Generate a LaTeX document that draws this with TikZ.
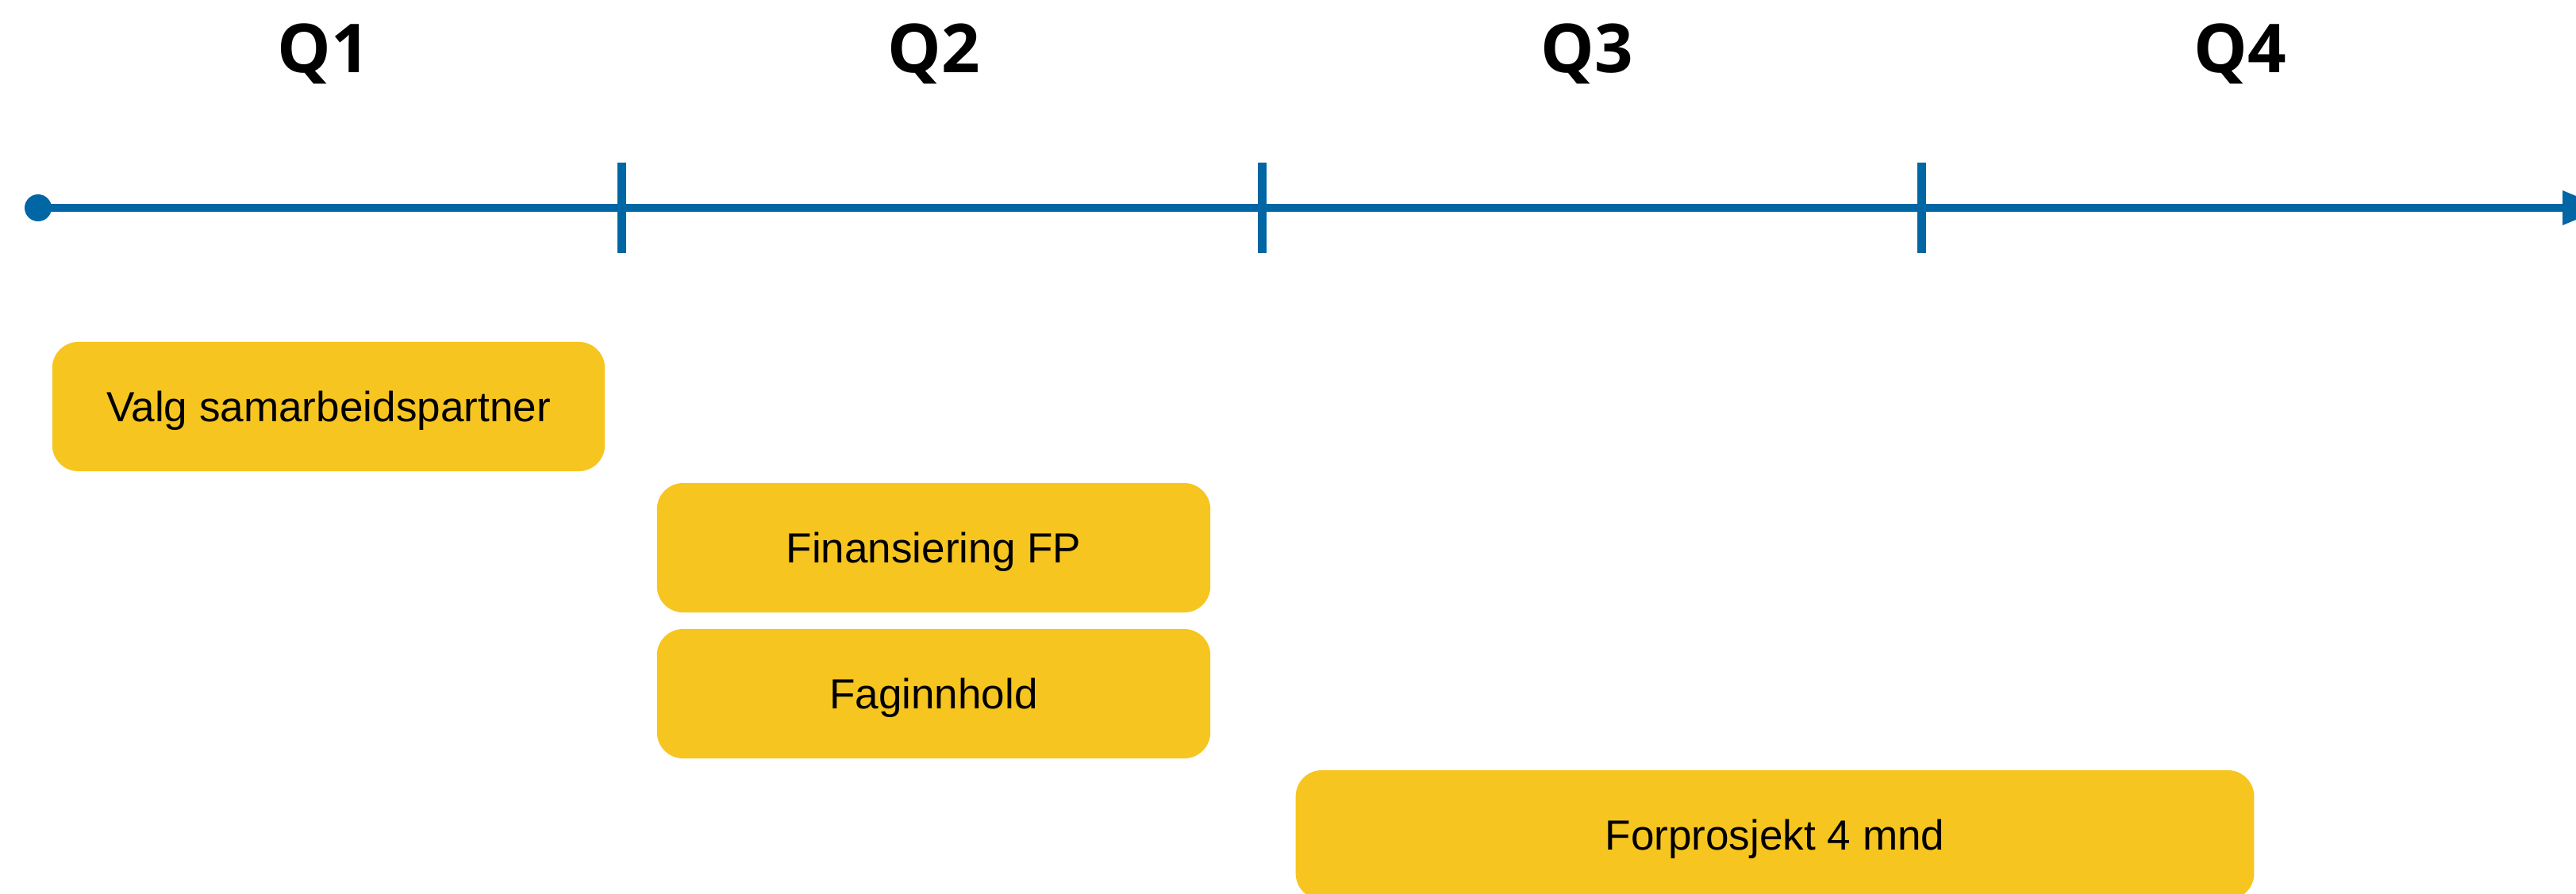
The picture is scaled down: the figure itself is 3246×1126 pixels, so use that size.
\documentclass[tikz,border=0pt]{standalone}
\usepackage{fontspec}
\setmainfont{Liberation Sans}
\newfontfamily\qfont{Open Sans}
\definecolor{axisblue}{HTML}{0066A4}
\definecolor{taskyellow}{HTML}{F7C51F}
\begin{document}
\begin{tikzpicture}[x=0.01cm,y=-0.01cm,
  qlabel/.style={anchor=base,inner sep=0pt,font=\qfont\bfseries\fontsize{24.2pt}{28pt}\selectfont},
  taskbox/.style={fill=taskyellow,rounded corners=0.33cm,inner sep=0pt,outer sep=0pt,
    text height=10.9pt,text depth=0pt,font=\fontsize{15.1pt}{18pt}\selectfont},
  axisline/.style={draw=axisblue,line width=0.1cm},
  tickline/.style={draw=axisblue,line width=0.11cm}]
\useasboundingbox (0,0) rectangle (3246,1126);
% quarter labels
\node[qlabel] (q1) at (408,91) {Q1};
\node[qlabel] (q2) at (1177,91) {Q2};
\node[qlabel] (q3) at (2000,91) {Q3};
\node[qlabel] (q4) at (2823,91) {Q4};
% axis
\coordinate (start) at (48,262);
\coordinate (arrowbase) at (3229,262);
\coordinate (arrowtop) at (3229,240);
\coordinate (arrowbot) at (3229,284);
\coordinate (arrowtip) at (3282,262);
\draw[axisline] (start) -- (arrowbase);
\fill[axisblue] (start) circle (17);
\fill[axisblue] (arrowtop) -- (arrowtip) -- (arrowbot) -- cycle;
% ticks
\foreach \t/\x in {t1/783,t2/1590,t3/2421}{
  \coordinate (\t a) at (\x,205);
  \coordinate (\t b) at (\x,319);
  \draw[tickline] (\t a) -- (\t b);
}
% tasks
\node[taskbox,minimum width=6.96cm,minimum height=1.63cm] (valg) at (414,512.5) {Valg samarbeidspartner};
\node[taskbox,minimum width=6.97cm,minimum height=1.63cm] (fin) at (1176.5,690.5) {Finansiering FP};
\node[taskbox,minimum width=6.97cm,minimum height=1.63cm] (fag) at (1176.5,874.5) {Faginnhold};
\node[taskbox,minimum width=12.07cm,minimum height=1.63cm] (forp) at (2236.5,1052.5) {Forprosjekt 4 mnd};
\end{tikzpicture}
\end{document}
